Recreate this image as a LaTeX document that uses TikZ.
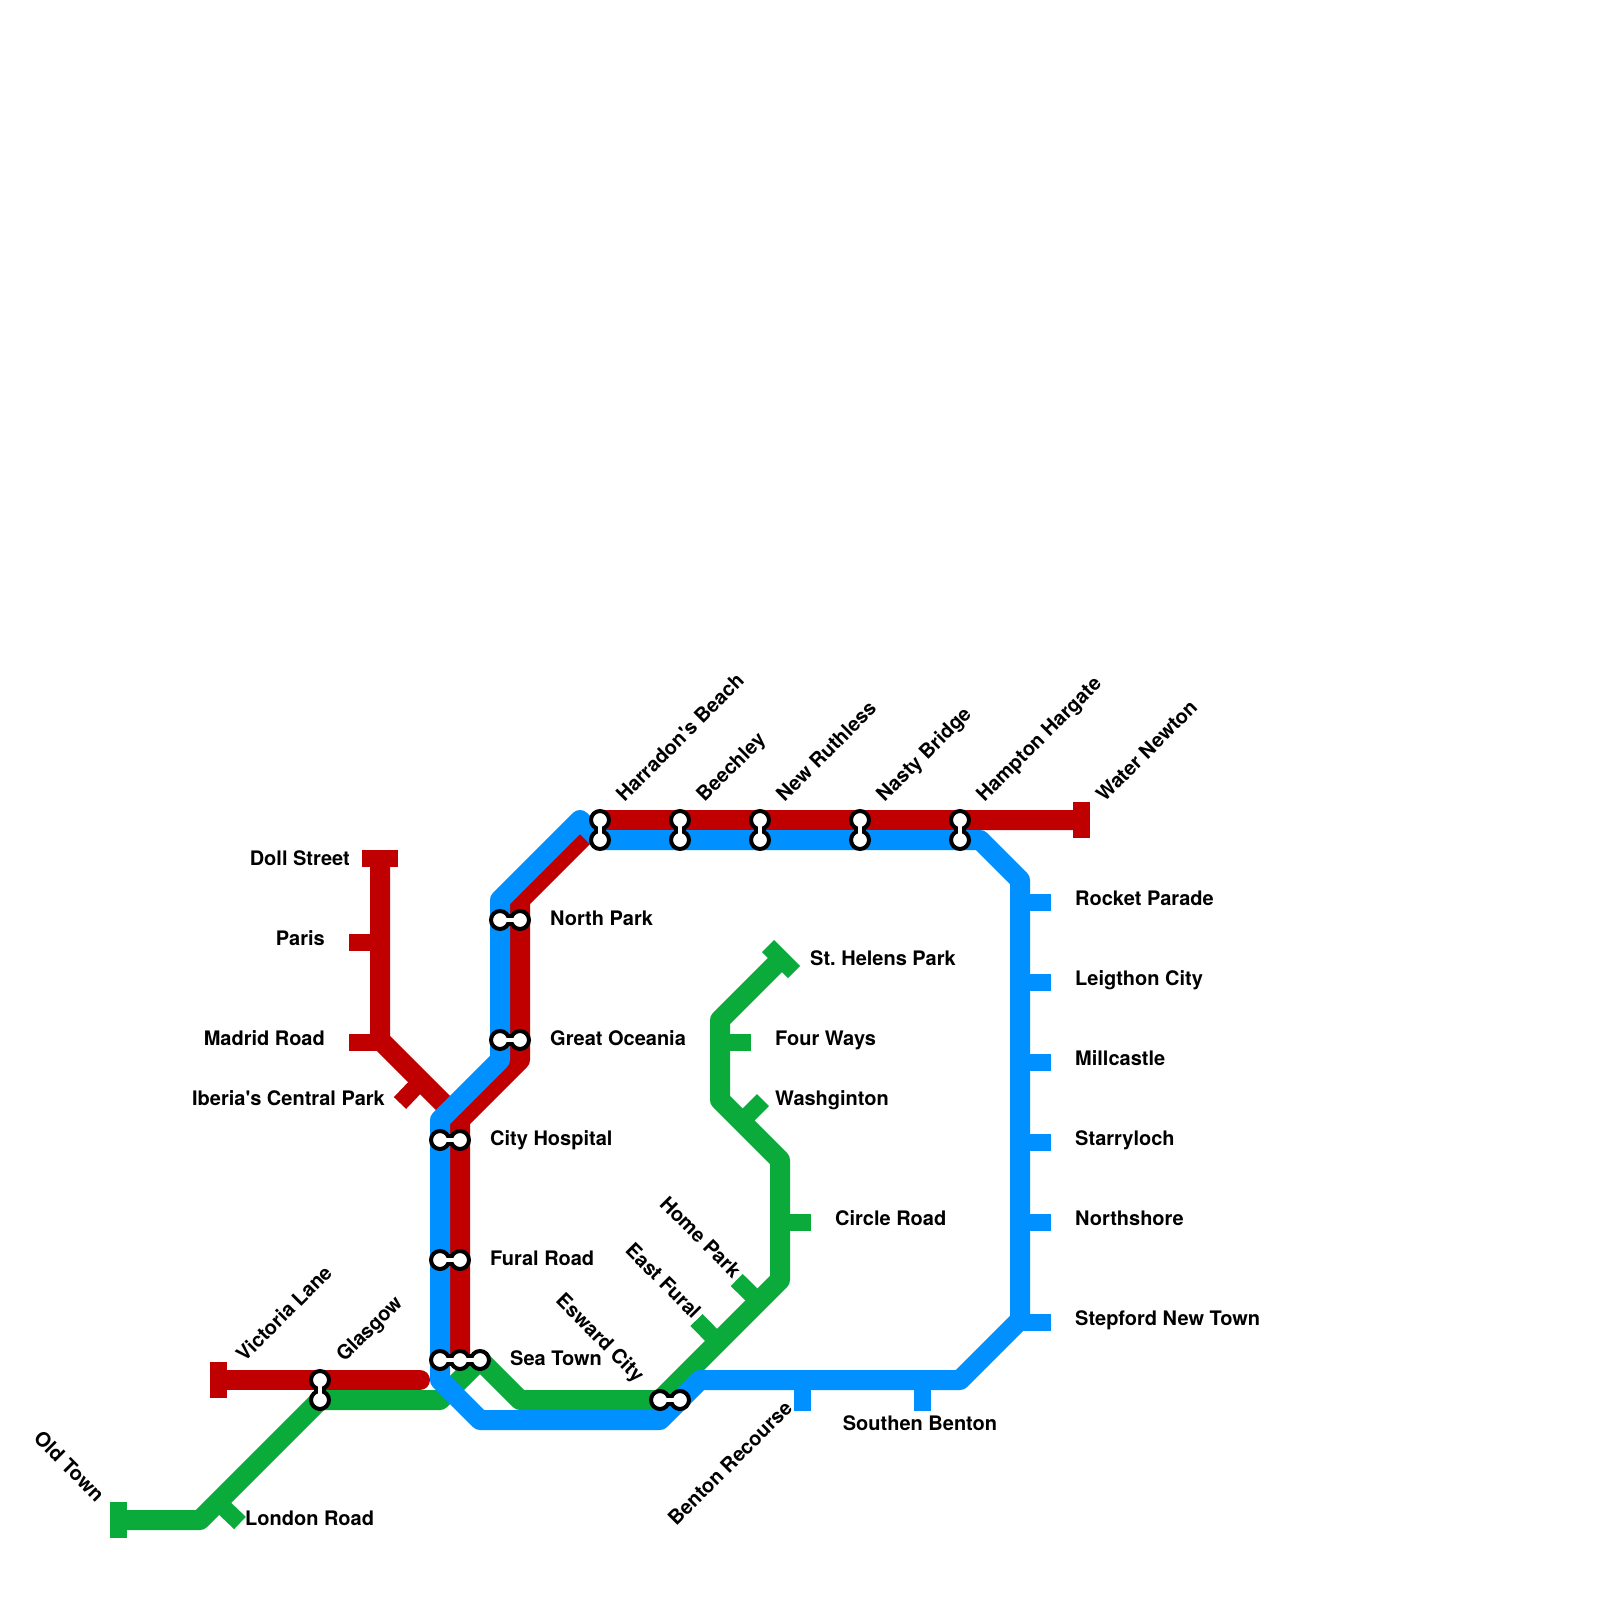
\documentclass[tikz,border=0pt]{standalone}
\usepackage{fontspec}
\newfontfamily\lblfont{TeX Gyre Heros}
\definecolor{mred}{HTML}{C00000}
\definecolor{mgreen}{HTML}{0BAB3B}
\definecolor{mblue}{HTML}{0090FF}
\tikzset{
  metro/.style={line width=20pt,line join=round,line cap=butt},
  tick/.style={line width=17pt,line cap=butt},
  term/.style={line width=17pt,line cap=butt},
  lbl/.style={font=\lblfont\bfseries\fontsize{20}{24}\selectfont\frenchspacing,inner sep=0pt,text=black},
  lw/.style={lbl,anchor=base west},
  le/.style={lbl,anchor=base east},
  lup/.style={lbl,anchor=base west,rotate=45},
  ldn/.style={lbl,anchor=base east,rotate=-45},
  lrev/.style={lbl,anchor=base east,rotate=45},
  stncircle/.style={circle,draw=black,fill=white,line width=4pt,minimum size=18pt,inner sep=0pt},
  linkouter/.style={draw=black,line width=12pt},
  linkinner/.style={draw=white,line width=4pt},
}
\newcommand\stnlink[2]{%
  \draw[linkouter] (#1)--(#2);
  \node[stncircle] (#1n) at (#1) {};
  \node[stncircle] (#2n) at (#2) {};
  \draw[linkinner] (#1n.center)--(#2n.center);}
\begin{document}
\begin{tikzpicture}[x=1pt,y=-1pt]
\useasboundingbox (0,0) rectangle (1600,1600);
\fill[white] (0,0) rectangle (1600,1600);
% station coordinates
\foreach \n/\x/\y in {hbr/600/820,hbb/600/840,ber/680/820,beb/680/840,nrr/760/820,nrb/760/840,
  nbr/860/820,nbb/860/840,hhr/960/820,hhb/960/840,npb/500/920,npr/520/920,gob/500/1040,gor/520/1040,
  chb/440/1140,chr/460/1140,frb/440/1260,frr/460/1260,stb/440/1360,str/460/1360,stg/480/1360,
  ecg/660/1400,ecb/680/1400,glr/320/1380,glg/320/1400}
  {\coordinate (\n) at (\x,\y);}
% green line
\draw[metro,mgreen] (118,1520) -- (200,1520) -- (glg) -- (440,1400) -- (stg) -- (520,1400) -- (ecg) -- (780,1280) -- (780,1160) -- (720,1100) -- (720,1020) -- (780,960);
\draw[term,mgreen] (118.5,1502) -- (118.5,1538);
\draw[tick,mgreen] (218,1502) -- (240,1523);
\draw[tick,mgreen] (720,1042.5) -- (751,1042.5);
\draw[tick,mgreen] (741.5,1121.5) -- (763,1100);
\draw[tick,mgreen] (780,1222.5) -- (811,1222.5);
\draw[tick,mgreen] (758.5,1301.5) -- (736.7,1280);
\draw[tick,mgreen] (718,1342) -- (696.5,1320);
\draw[term,mgreen] (768,946) -- (794,972);
% red lines
\draw[metro,mred] (1082,820) -- (hbr) -- (520,900) -- (520,1060) -- (460,1120) -- (str);
\draw[term,mred] (1081.5,802) -- (1081.5,838);
\draw[metro,mred] (380,850) -- (380,1040) -- (445,1105);
\draw[term,mred] (362,858.5) -- (398,858.5);
\draw[tick,mred] (380,942.5) -- (349,942.5);
\draw[tick,mred] (380,1042.5) -- (349,1042.5);
\draw[tick,mred] (421,1081) -- (400,1103);
\draw[metro,mred,line cap=round] (225,1380) -- (420,1380);
\draw[term,mred] (218.5,1362) -- (218.5,1398);
% blue line
\draw[metro,mblue,line cap=round] (hbb) -- (580,820) -- (500,900) -- (500,1060) -- (440,1120) -- (440,1380) -- (480,1420) -- (660,1420) -- (700,1380) -- (960,1380) -- (1020,1320) -- (1020,880) -- (980,840) -- cycle;
\foreach \y in {902.5,982.5,1062.5,1142.5,1222.5,1322.5}
  \draw[tick,mblue] (1020,\y) -- (1051,\y);
\draw[tick,mblue] (802.5,1380) -- (802.5,1410.5);
\draw[tick,mblue] (922.5,1380) -- (922.5,1410.5);
% interchanges
\stnlink{hbr}{hbb}
\stnlink{ber}{beb}
\stnlink{nrr}{nrb}
\stnlink{nbr}{nbb}
\stnlink{hhr}{hhb}
\stnlink{npb}{npr}
\stnlink{gob}{gor}
\stnlink{chb}{chr}
\stnlink{frb}{frr}
\stnlink{ecg}{ecb}
\stnlink{glr}{glg}
\draw[linkouter] (stb) -- (stg);
\node[stncircle] (stbn) at (stb) {};
\node[stncircle] (strn) at (str) {};
\node[stncircle] (stgn) at (stg) {};
\draw[linkinner] (stbn.center) -- (stgn.center);
% labels
\node[lw] (l1) at (550,925) {North Park};
\node[lw] (l2) at (550,1045) {Great Oceania};
\node[lw] (l3) at (490,1145) {City Hospital};
\node[lw] (l4) at (490,1265) {Fural Road};
\node[lw] (l5) at (510,1365) {Sea Town};
\node[lw] (l6) at (810,965) {St. Helens Park};
\node[lw] (l7) at (775,1045) {Four Ways};
\node[lw] (l8) at (775,1105) {Washginton};
\node[lw] (l9) at (835,1225) {Circle Road};
\node[lw] (l10) at (1075,905) {Rocket Parade};
\node[lw] (l11) at (1075,985) {Leigthon City};
\node[lw] (l12) at (1075,1065) {Millcastle};
\node[lw] (l13) at (1075,1145) {Starryloch};
\node[lw] (l14) at (1075,1225) {Northshore};
\node[lw] (l15) at (1075,1325) {Stepford New Town};
\node[lw] (l16) at (245,1525) {London Road};
\node[le] (l17) at (350,865) {Doll Street};
\node[le] (l18) at (325,945) {Paris};
\node[le] (l19) at (325,1045) {Madrid Road};
\node[le] (l20) at (385,1105) {Iberia's Central Park};
\node[lbl,anchor=base] (l21) at (920,1430) {Southen Benton};
\node[lup] (l22) at (624.5,803) {Harradon's Beach};
\node[lup] (l23) at (704.5,803) {Beechley};
\node[lup] (l24) at (784.5,803) {New Ruthless};
\node[lup] (l25) at (884.5,803) {Nasty Bridge};
\node[lup] (l26) at (984.5,803) {Hampton Hargate};
\node[lup] (l27) at (1104.5,803) {Water Newton};
\node[lup] (l28) at (244.5,1363) {Victoria Lane};
\node[lup] (l29) at (344.5,1363) {Glasgow};
\node[lrev] (l30) at (793.5,1409.5) {Benton Recourse};
\node[ldn] (l31) at (96,1503) {Old Town};
\node[ldn] (l32) at (732.5,1279) {Home Park};
\node[ldn] (l33) at (692.5,1320) {East Fural};
\node[ldn] (l34) at (636,1383) {Esward City};
\end{tikzpicture}
\end{document}
